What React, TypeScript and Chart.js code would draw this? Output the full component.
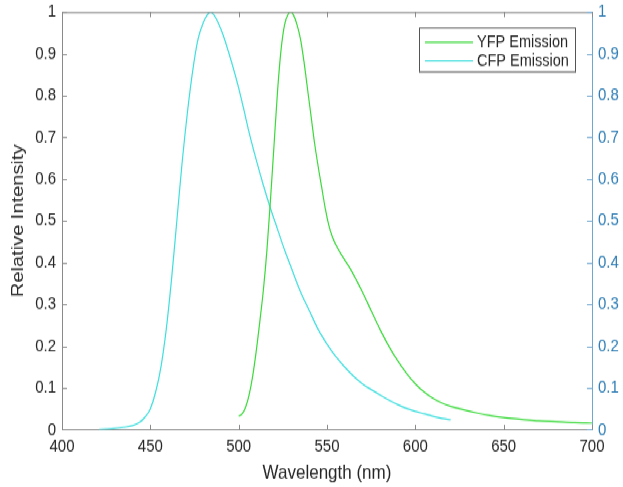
import React, { useEffect, useRef } from "react";
import { Chart, registerables } from "chart.js";

Chart.register(...registerables);

// ---- Data ----
const yfpWavelength = [
  500, 502, 504, 506, 508, 510, 512, 514, 516, 518, 520, 522, 524, 526, 528, 529.5,
  531, 533, 535, 537, 539, 541, 543, 545, 547, 549, 551, 553, 555, 558, 561, 564,
  567, 570, 575, 580, 585, 590, 595, 600, 605, 610, 615, 620, 627, 635, 642, 650,
  660, 670, 680, 690, 700,
];
const yfpIntensity = [
  0.032, 0.038, 0.055, 0.085, 0.13, 0.19, 0.26, 0.335, 0.43, 0.55, 0.68, 0.81, 0.91, 0.97, 0.995, 1.0,
  0.993, 0.97, 0.935, 0.88, 0.815, 0.75, 0.685, 0.63, 0.58, 0.53, 0.49, 0.462, 0.443, 0.42, 0.4, 0.379,
  0.355, 0.33, 0.285, 0.24, 0.2, 0.165, 0.135, 0.11, 0.09, 0.075, 0.064, 0.056, 0.048, 0.04, 0.034, 0.029,
  0.025, 0.021, 0.019, 0.017, 0.016,
];
const cfpWavelength = [
  421, 428, 435, 440, 444, 447, 450, 453, 456, 459, 462, 465, 468, 471, 474, 477,
  480, 482, 484, 486, 488, 490, 492, 494, 497, 500, 503, 506, 510, 514, 518, 522, 526,
  530, 535, 540, 545, 550, 555, 560, 565, 570, 575, 580, 585, 590, 595, 600, 605,
  610, 615, 620,
];
const cfpIntensity = [
  0.0, 0.002, 0.006, 0.01, 0.018, 0.03, 0.05, 0.09, 0.15, 0.24, 0.36, 0.5, 0.64, 0.76, 0.86, 0.935,
  0.975, 0.992, 1.0, 0.993, 0.978, 0.958, 0.935, 0.908, 0.865, 0.818, 0.765, 0.71, 0.645, 0.585, 0.53, 0.48, 0.43,
  0.385, 0.33, 0.285, 0.24, 0.205, 0.175, 0.15, 0.128, 0.11, 0.096, 0.083, 0.071, 0.06, 0.051, 0.044, 0.038,
  0.032, 0.027, 0.024,
];
const xTicks = [400, 450, 500, 550, 600, 650, 700];
const yTicks = [0, 0.1, 0.2, 0.3, 0.4, 0.5, 0.6, 0.7, 0.8, 0.9, 1];
const seriesNames = ["YFP Emission", "CFP Emission"];
const xTitle = "Wavelength (nm)";
const yTitle = "Relative Intensity";

// ---- Styling ----
const W = 623;
const H = 413;
const SY = 487 / H;
const FONT = "'Liberation Sans', Arial, sans-serif";
const TEXT = "#262626";
const AXIS = "#8a8a8a";
const BLUE_TEXT = "#2f7db5";
const BLUE_AXIS = "#6ea7d2";
const YFP_COLOR = "#3ad93a";
const CFP_COLOR = "#3fdede";

const decorPlugin = {
  id: "decor",
  afterDraw(chart: any) {
    const ctx = chart.ctx;
    const { left, right, top, bottom } = chart.chartArea;
    const xs = chart.scales.x;
    const yl = chart.scales.y;
    const yr = chart.scales.y1;
    ctx.save();
    ctx.lineWidth = 1;
    // top box line
    ctx.strokeStyle = AXIS;
    ctx.beginPath();
    ctx.moveTo(left, top + 0.5);
    ctx.lineTo(right, top + 0.5);
    ctx.stroke();
    // x ticks (inward, bottom and top)
    const tl = 4.3;
    ctx.beginPath();
    xTicks.forEach((v) => {
      const px = Math.round(xs.getPixelForValue(v)) + 0.5;
      ctx.moveTo(px, bottom);
      ctx.lineTo(px, bottom - tl);
      ctx.moveTo(px, top);
      ctx.lineTo(px, top + tl);
    });
    // left y ticks
    yTicks.forEach((v) => {
      const py = Math.round(yl.getPixelForValue(v)) + 0.5;
      ctx.moveTo(left, py);
      ctx.lineTo(left + 5, py);
    });
    ctx.stroke();
    // right y ticks
    ctx.strokeStyle = BLUE_AXIS;
    ctx.beginPath();
    yTicks.forEach((v) => {
      const py = Math.round(yr.getPixelForValue(v)) + 0.5;
      ctx.moveTo(right, py);
      ctx.lineTo(right - 5, py);
    });
    ctx.stroke();

    // legend box
    const bx = 419.5, by = 23.8, bw = 156, bh = 37.2;
    ctx.fillStyle = "#ffffff";
    ctx.fillRect(bx, by, bw, bh);
    ctx.strokeStyle = "#555555";
    ctx.strokeRect(bx, by, bw, bh);
    const rows = [
      { name: seriesNames[0], color: YFP_COLOR, y: 35.9 },
      { name: seriesNames[1], color: CFP_COLOR, y: 51.6 },
    ];
    ctx.font = `14.5px ${FONT}`;
    ctx.textBaseline = "middle";
    ctx.textAlign = "left";
    rows.forEach((r) => {
      ctx.strokeStyle = r.color;
      ctx.lineWidth = 1.2;
      ctx.beginPath();
      ctx.moveTo(425, r.y);
      ctx.lineTo(473, r.y);
      ctx.stroke();
      ctx.fillStyle = TEXT;
      ctx.fillText(r.name, 477, r.y + 0.5);
    });
    ctx.restore();
  },
};

const fitY = (w: number) => (s: any) => {
  s.width = w;
  s.paddingTop = 0;
  s.paddingBottom = 0;
};

export default function App() {
  const ref = useRef<HTMLCanvasElement | null>(null);

  useEffect(() => {
    if (!ref.current) return;
    const chart = new Chart(ref.current, {
      type: "line",
      data: {
        datasets: [
          {
            label: seriesNames[0],
            data: yfpWavelength.map((x, i) => ({ x, y: yfpIntensity[i] })),
            borderColor: YFP_COLOR,
            borderWidth: 1.2,
            pointRadius: 0,
            cubicInterpolationMode: "monotone",
            yAxisID: "y",
          },
          {
            label: seriesNames[1],
            data: cfpWavelength.map((x, i) => ({ x, y: cfpIntensity[i] })),
            borderColor: CFP_COLOR,
            borderWidth: 1.2,
            pointRadius: 0,
            cubicInterpolationMode: "monotone",
            yAxisID: "y1",
          },
        ],
      },
      options: {
        animation: false,
        responsive: false,
        devicePixelRatio: 1,
        layout: { padding: { top: 10.2, left: 0, right: 0, bottom: 0 } },
        plugins: {
          legend: { display: false },
          tooltip: { enabled: false },
        },
        scales: {
          x: {
            type: "linear",
            min: 400,
            max: 700,
            afterBuildTicks: (s: any) => {
              s.ticks = xTicks.map((v) => ({ value: v }));
            },
            afterFit: (s: any) => {
              s.height = 48.6;
              s.paddingLeft = 0;
              s.paddingRight = 0;
            },
            grid: { display: false, drawTicks: false, tickLength: 0 },
            border: { display: true, color: AXIS, width: 1 },
            ticks: {
              color: TEXT,
              font: { family: FONT, size: 15 },
              padding: 5,
              maxRotation: 0,
              autoSkip: false,
            },
            title: {
              display: true,
              text: xTitle,
              color: TEXT,
              font: { family: FONT, size: 17 },
              padding: { top: 0, bottom: 1.5 },
            },
          },
          y: {
            type: "linear",
            position: "left",
            min: 0,
            max: 1,
            afterBuildTicks: (s: any) => {
              s.ticks = yTicks.map((v) => ({ value: v }));
            },
            afterFit: fitY(62),
            grid: { display: false, drawTicks: false, tickLength: 0 },
            border: { display: true, color: AXIS, width: 1 },
            ticks: {
              color: TEXT,
              font: { family: FONT, size: 15 },
              padding: 6,
              autoSkip: false,
              callback: (v: any) => String(Number(Number(v).toFixed(1))),
            },
            title: {
              display: true,
              text: yTitle,
              color: TEXT,
              font: { family: FONT, size: 17 },
              padding: { top: 8, bottom: 0 },
            },
          },
          y1: {
            type: "linear",
            position: "right",
            min: 0,
            max: 1,
            afterBuildTicks: (s: any) => {
              s.ticks = yTicks.map((v) => ({ value: v }));
            },
            afterFit: fitY(31),
            grid: { display: false, drawTicks: false, tickLength: 0 },
            border: { display: true, color: BLUE_AXIS, width: 1 },
            ticks: {
              color: BLUE_TEXT,
              font: { family: FONT, size: 15 },
              padding: 6,
              autoSkip: false,
              callback: (v: any) => String(Number(Number(v).toFixed(1))),
            },
          },
        },
      },
      plugins: [decorPlugin],
    } as any);
    return () => chart.destroy();
  }, []);

  return (
    <div
      style={{
        position: "fixed",
        left: 0,
        top: 0,
        width: W,
        height: H,
        background: "#fff",
        transform: `scaleY(${SY})`,
        transformOrigin: "0 0",
      }}
    >
      <canvas ref={ref} width={W} height={H} style={{ display: "block", width: W, height: H }} />
    </div>
  );
}
